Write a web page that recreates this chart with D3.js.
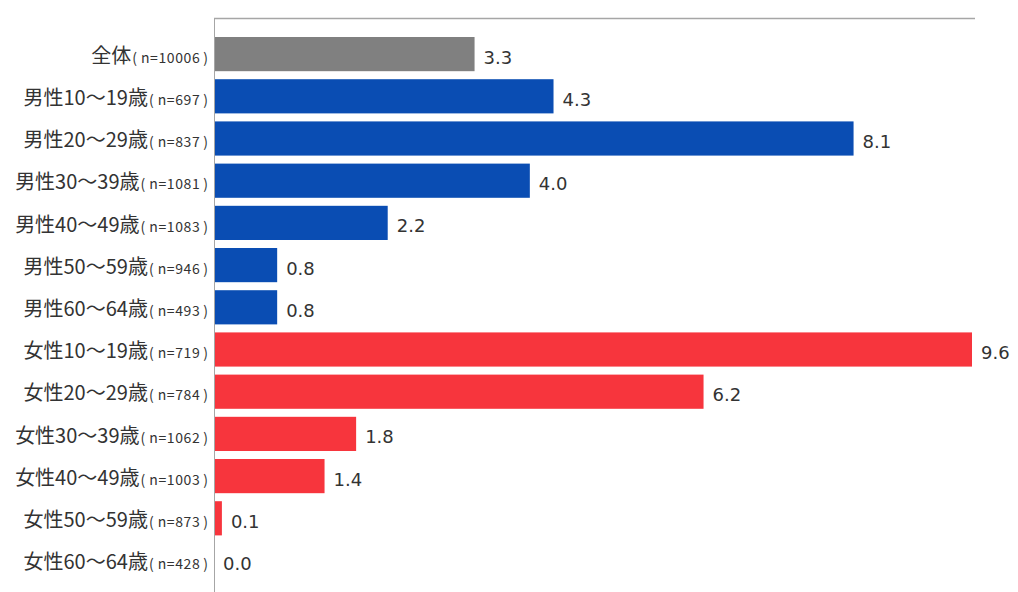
<!DOCTYPE html>
<html>
<head>
<meta charset="utf-8">
<script src="https://cdn.jsdelivr.net/npm/d3@7"></script>
<style>
  body { margin: 0; background: #fff; }
  svg { display: block; }
</style>
</head>
<body>
<div id="chart"></div>
<script>
  /**
   * DATA
   * */
  const groups = ["全体", "男性10～19歳", "男性20～29歳", "男性30～39歳", "男性40～49歳", "男性50～59歳", "男性60～64歳",
    "女性10～19歳", "女性20～29歳", "女性30～39歳", "女性40～49歳", "女性50～59歳", "女性60～64歳"];
  const sampleSizes = ["n=10006", "n=697", "n=837", "n=1081", "n=1083", "n=946", "n=493",
    "n=719", "n=784", "n=1062", "n=1003", "n=873", "n=428"];
  const values = [3.3, 4.3, 8.1, 4.0, 2.2, 0.8, 0.8, 9.6, 6.2, 1.8, 1.4, 0.1, 0.0];
  const kinds = ["all", "m", "m", "m", "m", "m", "m", "f", "f", "f", "f", "f", "f"];

  /**
   * CONSTANTS
   * */
  const width = 1018, height = 592;
  const margin = { top: 33, left: 214, right: 46 };
  const colors = { all: "#808080", m: "#0a4db3", f: "#f7353d" };

  const data = groups.map((g, i) => ({ group: g, n: sampleSizes[i], value: values[i], kind: kinds[i] }));

  const svg = d3.select("#chart").append("svg")
    .attr("width", width)
    .attr("height", height);

  const xScale = d3.scaleLinear()
    .domain([0, 9.6])
    .range([margin.left, width - margin.right]);

  const yScale = d3.scaleBand()
    .domain(groups)
    .range([margin.top, margin.top + groups.length * 42.2])
    .paddingInner(0.19)
    .paddingOuter(0.095);

  // top frame line
  svg.append("line")
    .attr("x1", margin.left).attr("x2", 975)
    .attr("y1", 18.5).attr("y2", 18.5)
    .attr("stroke", "#a6a6a6").attr("stroke-width", 1.5);

  // bars
  svg.selectAll("rect.bar")
    .data(data)
    .join("rect")
    .attr("class", "bar")
    .attr("x", xScale(0))
    .attr("y", d => yScale(d.group))
    .attr("width", d => xScale(d.value) - xScale(0))
    .attr("height", yScale.bandwidth())
    .attr("fill", d => colors[d.kind]);

  // value labels
  svg.selectAll("text.val")
    .data(data)
    .join("text")
    .attr("class", "val")
    .attr("x", d => xScale(d.value) + 9)
    .attr("y", d => yScale(d.group) + yScale.bandwidth() / 2 + 3)
    .attr("dy", "0.36em")
    .attr("font-family", "DejaVu Sans, Verdana, sans-serif")
    .attr("font-size", 18)
    .attr("fill", "#333")
    .text(d => d.value.toFixed(1));

  // category labels
  const labels = svg.selectAll("text.cat")
    .data(data)
    .join("text")
    .attr("class", "cat")
    .attr("x", 208)
    .attr("y", d => yScale(d.group) + yScale.bandwidth() / 2 + 3)
    .attr("dy", "0.36em")
    .attr("text-anchor", "end")
    .attr("font-family", "'Noto Sans CJK JP', sans-serif")
    .attr("fill", "#333");
  labels.append("tspan")
    .attr("font-size", 20)
    .text(d => d.group);
  labels.append("tspan")
    .attr("font-size", 14)
    .attr("dx", 1)
    .text("(");
  labels.append("tspan")
    .attr("font-size", 14)
    .attr("dx", 4)
    .attr("letter-spacing", 0.6)
    .text(d => d.n);
  labels.append("tspan")
    .attr("font-size", 14)
    .attr("dx", 3)
    .text(")");

  // vertical axis line
  svg.append("line")
    .attr("x1", margin.left + 0.5).attr("x2", margin.left + 0.5)
    .attr("y1", 18).attr("y2", height)
    .attr("stroke", "#a6a6a6").attr("stroke-width", 1);
</script>
</body>
</html>
